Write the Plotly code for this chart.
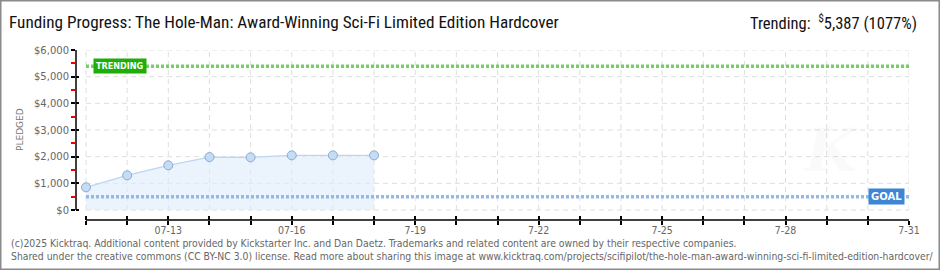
import plotly.graph_objects as go
import pandas as pd

# ---- data ----
dates = ["2025-07-11", "2025-07-12", "2025-07-13", "2025-07-14",
         "2025-07-15", "2025-07-16", "2025-07-17", "2025-07-18"]
pledged = [850, 1300, 1675, 1985, 1975, 2050, 2050, 2050]
goal = 500
trending = 5387
trending_pct = 1077
x_start = "2025-07-11"
x_end = "2025-07-31"
tick_dates = ["2025-07-13", "2025-07-16", "2025-07-19", "2025-07-22",
              "2025-07-25", "2025-07-28", "2025-07-31"]
tick_labels = ["07-13", "07-16", "7-19", "7-22", "7-25", "7-28", "7-31"]
y_ticks = [0, 1000, 2000, 3000, 4000, 5000, 6000]
y_minor = [500, 1500, 2500, 3500, 4500, 5500]
y_labels = ["$0", "$1,000", "$2,000", "$3,000", "$4,000", "$5,000", "$6,000"]
title = "Funding Progress: The Hole-Man: Award-Winning Sci-Fi Limited Edition Hardcover"
footer1 = "(c)2025 Kicktraq. Additional content provided by Kickstarter Inc. and Dan Daetz. Trademarks and related content are owned by their respective companies."
footer2 = "Shared under the creative commons (CC BY-NC 3.0) license. Read more about sharing this image at www.kicktraq.com/projects/scifipilot/the-hole-man-award-winning-sci-fi-limited-edition-hardcover/"

W, H = 940, 270
ML, MR, MT, MB = 76, 31, 50, 50
PW, PH = W - ML - MR, H - MT - MB

def px(xp):
    return (xp - ML) / PW

def py(yp):
    return (H - MB - yp) / PH

all_days = pd.date_range(x_start, x_end, freq="D")
x0 = pd.Timestamp(x_start) - pd.Timedelta(days=10 / (PW - 10) * 20)
YR = [-375, 6000]
GRID = dict(color="#dedede", width=1, dash="5px,4px")

fig = go.Figure()

# area + line + markers
fig.add_trace(go.Scatter(
    x=dates, y=pledged, mode="lines+markers",
    line=dict(color="#bcd6f2", width=1.3),
    fill="tozeroy", fillcolor="rgba(222,235,250,0.6)",
    marker=dict(size=9, color="#c4dcf6", line=dict(color="#8fa9c9", width=1)),
    hoverinfo="skip", showlegend=False,
))
# goal line
fig.add_trace(go.Scatter(
    x=[x_start, x_end], y=[goal, goal], mode="lines",
    line=dict(color="#93b9e4", width=3.5, dash="3px,2px"),
    hoverinfo="skip", showlegend=False,
))
# trending line
fig.add_trace(go.Scatter(
    x=[x_start, x_end], y=[trending, trending], mode="lines",
    line=dict(color="#78cd68", width=3.5, dash="3px,2px"),
    hoverinfo="skip", showlegend=False,
))

shapes = []
for d in all_days:
    shapes.append(dict(type="line", xref="x", yref="y", x0=d, x1=d, y0=0, y1=6000,
                       line=GRID, layer="below"))
for v in y_ticks:
    shapes.append(dict(type="line", xref="x", yref="y", x0=x_start, x1=x_end, y0=v, y1=v,
                       line=GRID, layer="below"))
# y axis line
shapes.append(dict(type="line", xref="paper", yref="y", x0=0, x1=0, y0=0, y1=6000,
                   line=dict(color="#000", width=1.5)))
# x axis line
shapes.append(dict(type="line", xref="x", yref="paper", x0=x_start, x1=x_end, y0=0, y1=0,
                   line=dict(color="#000", width=1.5)))
# border
shapes.append(dict(type="rect", xref="paper", yref="paper",
                   x0=px(0.75), x1=px(W - 0.75), y0=py(H - 0.75), y1=py(0.75),
                   line=dict(color="#8a8a8a", width=1.5), layer="below"))

TFONT = "Liberation Sans Narrow, Roboto Condensed, Liberation Sans"
annotations = [
    dict(text=title, xref="paper", yref="paper", x=px(7), y=py(22), xanchor="left",
         yanchor="middle", showarrow=False, font=dict(family=TFONT, size=17.2, color="#111")),
    dict(text=f"Trending:  <sup>$</sup>{trending:,} ({trending_pct}%)", xref="paper", yref="paper",
         x=px(919), y=py(22), xanchor="right", yanchor="middle", showarrow=False,
         font=dict(family=TFONT, size=16.5, color="#111")),
    dict(text=footer1, xref="paper", yref="paper", x=px(9), y=py(243), xanchor="left",
         yanchor="middle", showarrow=False,
         font=dict(family="DejaVu Sans Condensed, DejaVu Sans", size=10.35, color="#666")),
    dict(text=footer2, xref="paper", yref="paper", x=px(9), y=py(256), xanchor="left",
         yanchor="middle", showarrow=False,
         font=dict(family="DejaVu Sans Condensed, DejaVu Sans", size=10.35, color="#666")),
    dict(text="PLEDGED", xref="paper", yref="paper", x=px(20), y=py(130), textangle=-90,
         xanchor="center", yanchor="middle", showarrow=False,
         font=dict(family="DejaVu Sans", size=9, color="#777")),
    dict(text="<b>TRENDING</b>", xref="x", yref="y", x=x_start, y=trending, xanchor="left",
         xshift=7, yanchor="middle", showarrow=False, bgcolor="#1fae05", borderpad=2,
         font=dict(family="DejaVu Sans Condensed, DejaVu Sans", size=9, color="#fff")),
    dict(text="<b>GOAL</b>", xref="x", yref="y", x=x_end, y=goal, xanchor="right",
         xshift=-4, yanchor="middle", showarrow=False, bgcolor="#3c86d4", borderpad=2,
         font=dict(family="DejaVu Sans", size=10, color="#fff")),
    dict(text="<i><b>K</b></i>", xref="paper", yref="paper", x=px(862), y=py(150),
         showarrow=False, font=dict(family="DejaVu Serif", size=60, color="rgba(0,0,0,0.018)")),
]

TICKFONT = dict(family="DejaVu Sans Condensed, DejaVu Sans", size=10.5, color="#666")
fig.update_layout(
    width=W, height=H, margin=dict(l=ML, r=MR, t=MT, b=MB),
    paper_bgcolor="#fff", plot_bgcolor="#fff",
    shapes=shapes, annotations=annotations, showlegend=False,
    xaxis=dict(range=[x0, x_end], tickvals=tick_dates, ticktext=tick_labels,
               showgrid=False, zeroline=False, showline=False,
               ticks="outside", ticklen=4, tickcolor="#000", tickwidth=1.5,
               ticklabelstandoff=-4,
               minor=dict(tickvals=list(all_days), ticks="outside", ticklen=4,
                          tickcolor="#000", tickwidth=1.5, showgrid=False),
               tickfont=TICKFONT),
    xaxis2=dict(range=[x0, x_end], overlaying="x", anchor="y", side="bottom",
                tickvals=list(all_days), showticklabels=False, ticks="inside", ticklen=4,
                tickcolor="#000", tickwidth=1.5, showgrid=False, zeroline=False, showline=False),
    yaxis=dict(range=YR, tickvals=y_ticks, ticktext=y_labels,
               showgrid=False, zeroline=False, showline=False,
               ticks="outside", ticklen=4, tickcolor="#000", tickwidth=1.5,
               minor=dict(tickvals=y_minor, ticks="outside",
                          ticklen=4, tickcolor="#e00", tickwidth=1.5, showgrid=False),
               tickfont=dict(family="DejaVu Sans", size=10, color="#666")),
    yaxis2=dict(range=YR, overlaying="y", anchor="x", side="left",
                tickvals=y_ticks, showticklabels=False, ticks="inside", ticklen=3,
                tickcolor="#000", tickwidth=1.5, showgrid=False, zeroline=False, showline=False),
)
fig.add_trace(go.Scatter(x=[x_start], y=[None], xaxis="x2", yaxis="y2",
                         showlegend=False, hoverinfo="skip"))

fig.write_html("out.html")
